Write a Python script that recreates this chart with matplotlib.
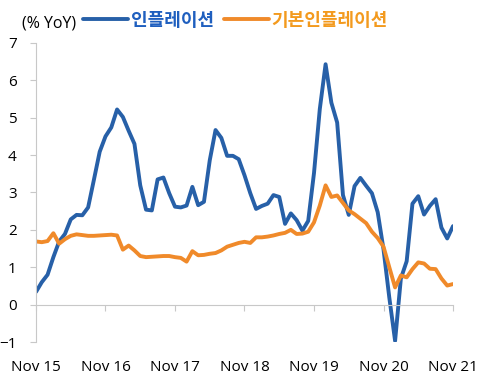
import numpy as np
import matplotlib
matplotlib.use('Agg')
import matplotlib.pyplot as plt

plt.rcParams['font.family'] = ['Open Sans', 'Noto Sans CJK KR', 'DejaVu Sans']

# 월별 데이터 (2015년 11월 ~ 2021년 11월)
inflation = [0.34, 0.6, 0.8, 1.27, 1.69, 1.89, 2.28, 2.4, 2.39, 2.6, 3.34, 4.09,
             4.5, 4.74, 5.22, 5.02, 4.65, 4.3, 3.19, 2.54, 2.52, 3.35, 3.4, 2.98,
             2.62, 2.6, 2.65, 3.15, 2.66, 2.75, 3.86, 4.67, 4.46, 3.98, 3.98, 3.89,
             3.46, 2.98, 2.56, 2.64, 2.7, 2.93, 2.88, 2.16, 2.44, 2.26, 1.98, 2.24,
             3.52, 5.23, 6.43, 5.4, 4.87, 2.93, 2.4, 3.17, 3.39, 3.18, 2.98, 2.47,
             1.48, 0.19, -0.97, 0.7, 1.16, 2.7, 2.9, 2.41, 2.64, 2.82, 2.06, 1.77,
             2.1]
core = [1.69, 1.67, 1.7, 1.91, 1.63, 1.75, 1.84, 1.88, 1.86, 1.84, 1.84, 1.85,
        1.86, 1.87, 1.85, 1.47, 1.58, 1.45, 1.3, 1.27, 1.28, 1.29, 1.3, 1.3,
        1.27, 1.25, 1.15, 1.43, 1.32, 1.33, 1.36, 1.38, 1.45, 1.55, 1.6, 1.65,
        1.68, 1.65, 1.8, 1.8, 1.82, 1.85, 1.89, 1.92, 2.0, 1.89, 1.9, 1.95,
        2.2, 2.65, 3.19, 2.88, 2.92, 2.72, 2.52, 2.42, 2.3, 2.18, 1.95, 1.78,
        1.55, 1.0, 0.46, 0.78, 0.73, 0.95, 1.13, 1.1, 0.96, 0.95, 0.7, 0.51,
        0.55]
tick_labels = ['Nov 15', 'Nov 16', 'Nov 17', 'Nov 18', 'Nov 19', 'Nov 20', 'Nov 21']

months = np.arange(len(inflation))

fig = plt.figure(figsize=(5.02, 3.80), dpi=100)
ax = fig.add_axes([0.0717, 0.10, 0.8307, 0.787])

blue = '#2760a8'
orange = '#f08a2a'
ax.plot(months, inflation, color=blue, lw=2.8, label='인플레이션',
        solid_capstyle='round', solid_joinstyle='round')
ax.plot(months, core, color=orange, lw=2.8, label='기본인플레이션',
        solid_capstyle='round', solid_joinstyle='round')

ax.set_xlim(0, 72)
ax.set_ylim(-1, 7)
ax.set_yticks(range(-1, 8))
ax.set_xticks(range(0, 73, 12))
ax.set_xticklabels(tick_labels)

for s in ['top', 'right']:
    ax.spines[s].set_visible(False)
ax.spines['bottom'].set_position(('data', 0))
ax.spines['bottom'].set_color('#c8c8c8')
ax.spines['left'].set_color('#c8c8c8')
ax.tick_params(axis='x', length=4, color='#c8c8c8', pad=36, labelsize=11)
ax.tick_params(axis='y', length=4, color='#c8c8c8', pad=10, labelsize=11)

fig.text(0.044, 0.937, '(% YoY)', fontsize=11.5, va='center', ha='left')
leg = ax.legend(loc='lower left', bbox_to_anchor=(0.095, 1.02), ncol=2, frameon=False,
                handlelength=2.5, handletextpad=0.15, columnspacing=0.55,
                borderaxespad=0, prop={'family': ['Noto Sans CJK KR'], 'weight': 'bold', 'size': 13})
for t, c in zip(leg.get_texts(), ['#1f5fbf', '#f39a1e']):
    t.set_color(c)

fig.savefig('out.png', dpi=100)
